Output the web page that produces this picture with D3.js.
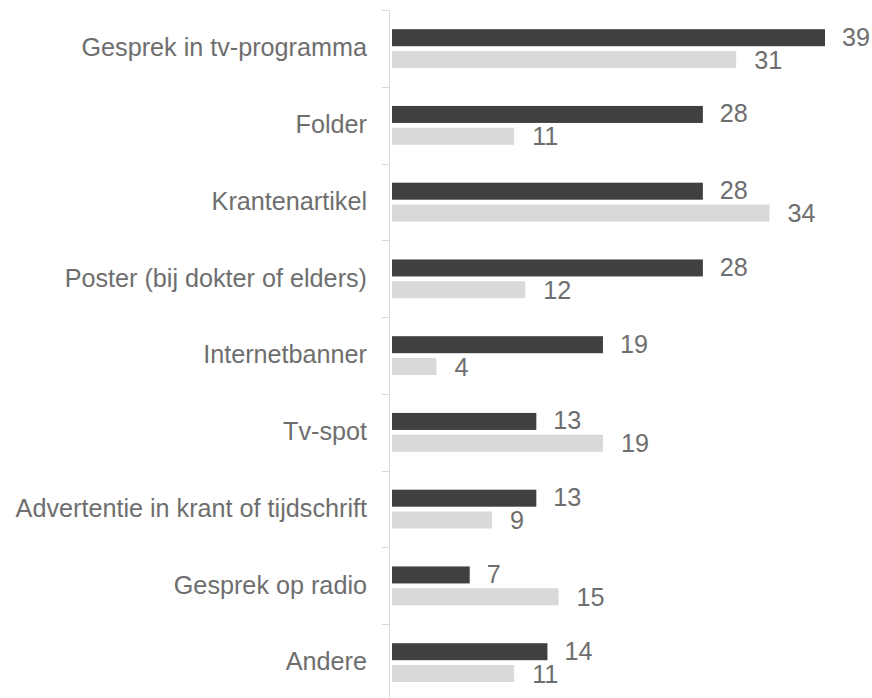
<!DOCTYPE html>
<html>
<head>
<meta charset="utf-8">
<script src="https://cdn.jsdelivr.net/npm/d3@7"></script>
<style>
  html, body { margin: 0; padding: 0; background: #fff; }
  svg { display: block; }
</style>
</head>
<body>
<svg id="chart" width="872" height="698"></svg>
<script>
const categories = [
  "Gesprek in tv-programma",
  "Folder",
  "Krantenartikel",
  "Poster (bij dokter of elders)",
  "Internetbanner",
  "Tv-spot",
  "Advertentie in krant of tijdschrift",
  "Gesprek op radio",
  "Andere"
];
const seriesDark = [39, 28, 28, 28, 19, 13, 13, 7, 14];
const seriesLight = [31, 11, 34, 12, 4, 19, 9, 15, 11];

const svg = d3.select("#chart");
const font = "'Liberation Sans', Arial, sans-serif";
const textColor = "#6e6e6e";

const x = d3.scaleLinear().domain([0, 39]).range([392, 825]);
const y = d3.scaleBand().domain(categories).range([10, 10 + 9 * 76.75]).padding(0);
const bw = y.bandwidth();

// axis line
svg.append("line")
  .attr("x1", 389.5).attr("x2", 389.5)
  .attr("y1", y.range()[0]).attr("y2", y.range()[1])
  .attr("stroke", "#d9d9d9").attr("stroke-width", 1);

// tick marks at band boundaries
svg.selectAll("line.tick")
  .data(categories)
  .join("line")
  .attr("class", "tick")
  .attr("x1", 382).attr("x2", 389.5)
  .attr("y1", d => Math.round(y(d)) + 0.5)
  .attr("y2", d => Math.round(y(d)) + 0.5)
  .attr("stroke", "#d9d9d9").attr("stroke-width", 1);

// category labels
svg.selectAll("text.cat")
  .data(categories)
  .join("text")
  .attr("class", "cat")
  .attr("x", 367)
  .attr("y", d => y(d) + bw / 2 - 1)
  .attr("text-anchor", "end")
  .attr("dominant-baseline", "central")
  .attr("font-family", font)
  .attr("font-size", 25.2)
  .attr("fill", textColor)
  .text(d => d);

const barH = 17;
const darkOff = 19.2;
const lightOff = 41;

// dark bars
svg.selectAll("rect.dark")
  .data(categories)
  .join("rect")
  .attr("class", "dark")
  .attr("x", x(0))
  .attr("y", d => y(d) + darkOff)
  .attr("width", (d, i) => x(seriesDark[i]) - x(0))
  .attr("height", barH)
  .attr("fill", "#404040");

// light bars
svg.selectAll("rect.light")
  .data(categories)
  .join("rect")
  .attr("class", "light")
  .attr("x", x(0))
  .attr("y", d => y(d) + lightOff)
  .attr("width", (d, i) => x(seriesLight[i]) - x(0))
  .attr("height", barH)
  .attr("fill", "#d9d9d9");

// value labels
svg.selectAll("text.vd")
  .data(categories)
  .join("text")
  .attr("class", "vd")
  .attr("x", (d, i) => x(seriesDark[i]) + 17)
  .attr("y", d => y(d) + darkOff + barH / 2 - 1)
  .attr("dominant-baseline", "central")
  .attr("font-family", font)
  .attr("font-size", 25.2)
  .attr("fill", textColor)
  .text((d, i) => seriesDark[i]);

svg.selectAll("text.vl")
  .data(categories)
  .join("text")
  .attr("class", "vl")
  .attr("x", (d, i) => x(seriesLight[i]) + 18)
  .attr("y", d => y(d) + lightOff + barH / 2)
  .attr("dominant-baseline", "central")
  .attr("font-family", font)
  .attr("font-size", 25.2)
  .attr("fill", textColor)
  .text((d, i) => seriesLight[i]);
</script>
</body>
</html>
